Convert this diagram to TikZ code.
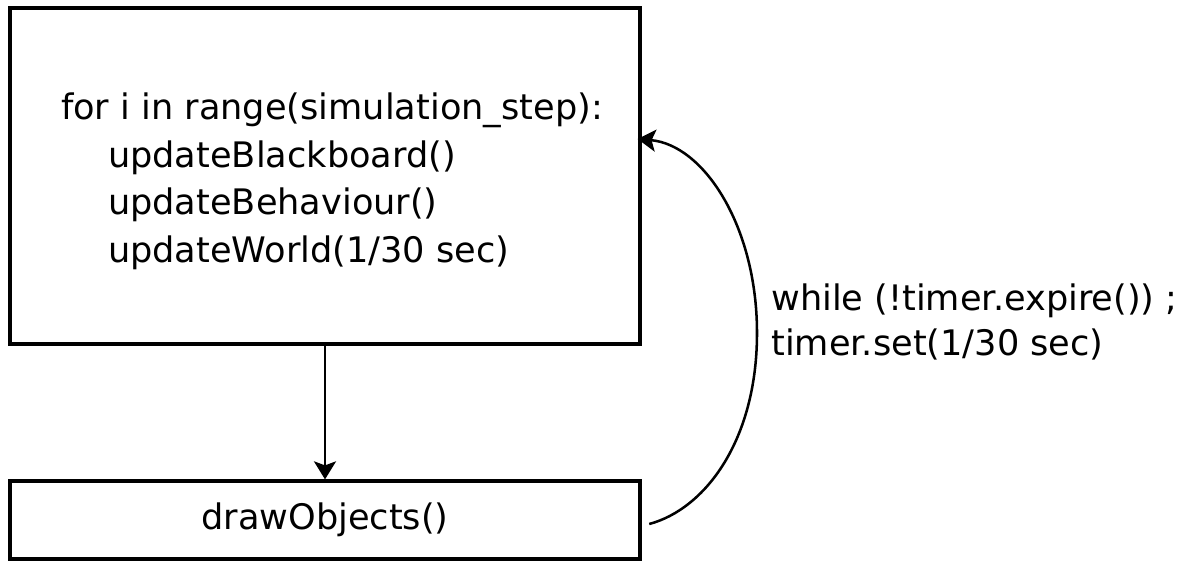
\documentclass[tikz,border=0pt]{standalone}
\usepackage{fontspec}
\setmainfont{DejaVu Sans}
\usetikzlibrary{arrows.meta}

\begin{document}
\begin{tikzpicture}[
    box_style/.style={draw, line width=2.3pt, minimum width=15.75cm, inner sep=0pt},
    code_font/.style={font=\fontsize{25}{34}\selectfont},
    arrow_style/.style={-{Stealth[length=0.45cm, width=0.55cm, inset=0.1cm]}, line width=1.8pt},
    note_style/.style={font=\fontsize{25}{32}\selectfont, align=left, anchor=west, inner sep=0pt}
]
    \useasboundingbox (0,0) rectangle (29.8,14.05);

    % Simulation loop
    \node (sim_box) at (8.125,9.65) [box_style, code_font, minimum height=8.4cm, align=left]
        {\hspace{0.35cm}\rule{0pt}{26.5pt}for i in range(simulation\_step):\\
         \hspace{1.525cm}updateBlackboard()\\
         \hspace{1.525cm}updateBehaviour()\\
         \hspace{1.525cm}updateWorld(1/30 sec)};

    % Rendering
    \node (draw_box) at (8.125,1.05) [box_style, code_font, minimum height=1.95cm] {drawObjects()};

    \draw[arrow_style] (sim_box) -- (draw_box);

    % Loop back to the top, waiting on the timer
    \coordinate (loop_start) at ([xshift=0.19cm, yshift=-0.1cm]draw_box.east);
    \coordinate (loop_turn) at (18.925,5.725);
    \coordinate (loop_end) at ([xshift=-0.1cm, yshift=0.925cm]sim_box.east);
    \draw[arrow_style] (loop_start) .. controls +(15:1.45) and +(0,-2.68) .. (loop_turn)
        .. controls +(0,2.68) and +(-5:1.65) .. (loop_end);

    \node (timer_note) at (19.275,6.0) [note_style] {while (!timer.expire()) ;\\timer.set(1/30 sec)};
\end{tikzpicture}
\end{document}
